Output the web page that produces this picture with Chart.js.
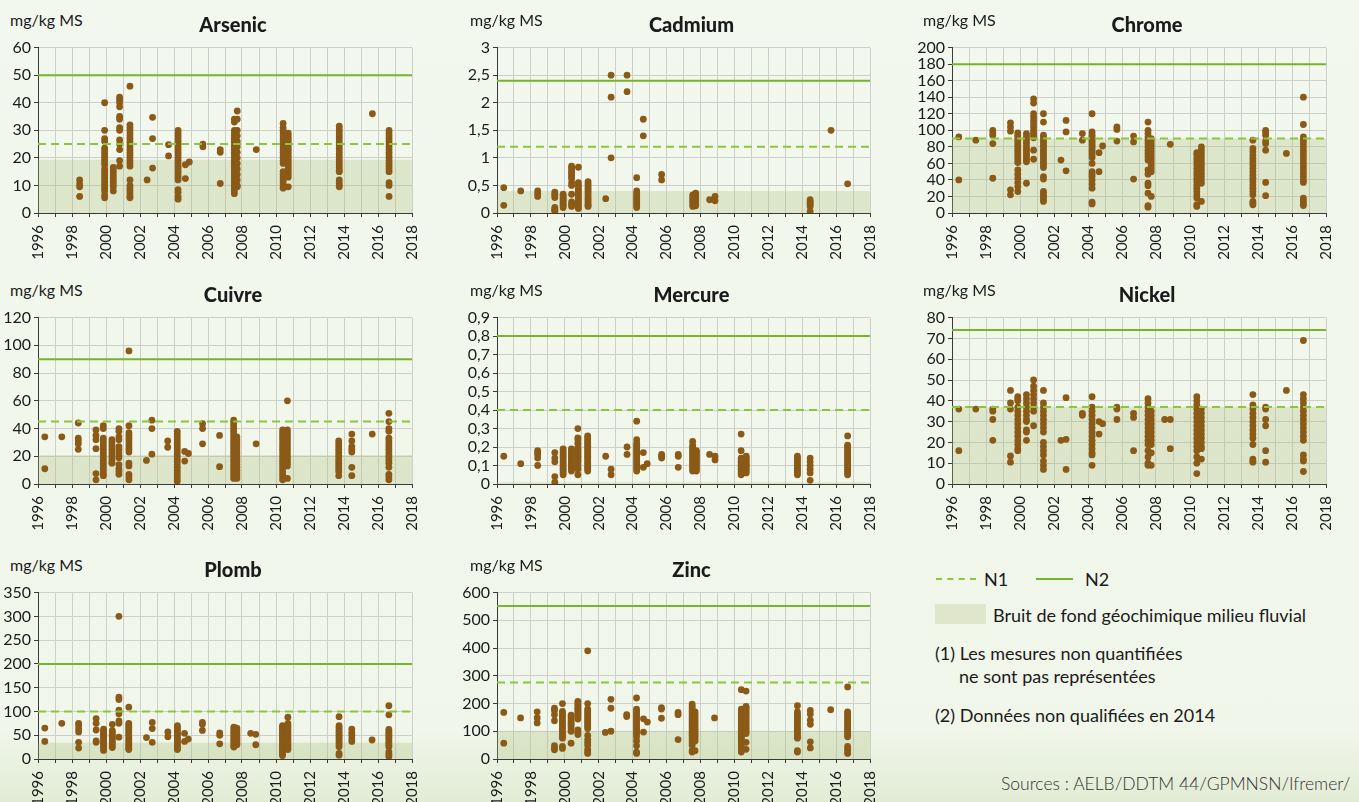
<!DOCTYPE html>
<html lang="fr">
<head>
<meta charset="utf-8">
<title>Métaux dans les sédiments</title>
<script src="https://cdn.jsdelivr.net/npm/chart.js@4.4.1/dist/chart.umd.min.js"></script>
<style>
  html, body { margin: 0; padding: 0; }
  body {
    width: 1359px; height: 802px; overflow: hidden; position: relative;
    background: linear-gradient(to bottom, #f3f8ee 0%, #f1f6ea 91%, #e2ecd5 100%);
    font-family: Lato, 'Open Sans', sans-serif; color: #1b1b1b;
  }
  canvas { position: absolute; }
  .unite { position: absolute; font-size: 16px; line-height: 16px; white-space: nowrap; }
  .titre { position: absolute; font-size: 20px; line-height: 20px; font-weight: 900; transform: translateX(-50%); white-space: nowrap; }
  .leg { position: absolute; font-size: 18px; line-height: 18px; white-space: nowrap; }
  .trait { position: absolute; height: 0; }
</style>
</head>
<body>

<!-- legende -->
<div class="trait" style="left:936px; top:578px; width:40px; border-top:2px dashed #8cc63f"></div>
<div class="leg" style="left:984px; top:570px">N1</div>
<div class="trait" style="left:1036px; top:578px; width:37px; border-top:2px solid #78b42a"></div>
<div class="leg" style="left:1085px; top:570px">N2</div>
<div style="position:absolute; left:935px; top:604px; width:51px; height:20px; background:#dfe6cc"></div>
<div class="leg" style="left:993px; top:606px">Bruit de fond géochimique milieu fluvial</div>
<div class="leg" style="left:935px; top:644px">(1) Les mesures non quantifiées</div>
<div class="leg" style="left:959px; top:667px">ne sont pas représentées</div>
<div class="leg" style="left:935px; top:706px">(2) Données non qualifiées en 2014</div>
<div class="leg" style="left:1001px; top:775px; font-size:17.5px; color:#333; font-weight:300">Sources : AELB/DDTM 44/GPMNSN/Ifremer/</div>

<script>
// Noms des éléments et seuils (mg/kg MS)
const metaux = ['Arsenic', 'Cadmium', 'Chrome', 'Cuivre', 'Mercure', 'Nickel', 'Plomb', 'Zinc']
const niveauN1 = [25, 1.2, 90, 45, 0.4, 37, 100, 276]
const niveauN2 = [50, 2.4, 180, 90, 0.8, 74, 200, 552]
const bruitDeFond = [19.3, 0.4, 90, 21, 0.01, 37, 34, 100]
const yMax = [60, 3, 200, 120, 0.9, 80, 350, 600]
const yPas = [10, 0.5, 20, 20, 0.1, 10, 50, 100]
const anneeMin = 1996, anneeMax = 2018

// Arsenic
const arsenicDates = [1998.45, 1999.92, 2000.43, 2000.8, 2001.41, 2002.42, 2002.74, 2003.68, 2004.24, 2004.67, 2004.9, 2005.7, 2006.72, 2007.55, 2007.72, 2008.84, 2010.42, 2010.72, 2013.72, 2015.67, 2016.65]
const arsenicValeurs = [
    [12, 10.5, 9.5, 6],
    [40, 30, 27, 26, 23.5, 22.5, 21.5, 20.5, 19.5, 18.5, 17.5, 16, 15, 14, 13, 12, 11, 10, 9, 8, 6.5, 5.5],
    [16.5, 15.5, 14.5, 13.5, 12.5, 11.5, 10.5, 9.5, 8],
    [42, 41, 40, 38.5, 35, 34, 31, 30, 26.5, 25, 23, 19, 17],
    [46, 32, 31, 30, 29, 28, 27, 26, 25, 24, 23, 22, 21, 20, 19, 18, 17, 12, 10, 9, 8, 7, 6, 5.5],
    [12],
    [34.7, 27, 16.3],
    [24.8, 20.7],
    [30, 29, 28, 27, 26, 25, 24, 23, 22, 21, 20, 19, 18, 17, 16, 15, 14, 13, 12, 8.5, 7.5, 6, 5],
    [17.5, 12.5],
    [18.5],
    [25, 24],
    [23, 22, 10.7],
    [34, 33, 30, 29, 28, 27, 26, 25, 24, 23, 22, 21, 20, 19, 18, 17, 16, 15, 14, 13, 12, 11, 10, 9, 8, 7],
    [37, 34, 30, 28, 26, 24, 22, 20, 18, 16, 14, 12, 10, 9.5],
    [23],
    [32.5, 31, 30, 29, 28, 27, 26, 25, 24, 23, 22, 21, 20, 19, 18, 15, 14, 13, 12, 11, 10, 9],
    [29, 28, 27, 26, 25, 24, 23, 22, 21, 20, 19, 18, 17, 16, 15, 14, 13, 9.5],
    [31.5, 30.5, 29.5, 28.5, 27.5, 26.5, 25.5, 24.5, 23.5, 22.5, 21.5, 20.5, 19.5, 18.5, 17.5, 16.5, 15.5, 15, 12, 11, 10, 9.5],
    [36],
    [30, 29, 28, 27, 26, 25, 24, 23, 22, 21, 20, 19, 18, 17, 16, 15, 11, 10, 6]
]

// Cadmium
const cadmiumDates = [1996.4, 1997.4, 1998.4, 1999.41, 1999.9, 2000.4, 2000.8, 2001.37, 2002.41, 2002.73, 2003.67, 2004.24, 2004.63, 2005.71, 2007.55, 2007.72, 2008.54, 2008.86, 2014.47, 2015.7, 2016.68]
const cadmiumValeurs = [
    [0.46, 0.14],
    [0.4],
    [0.4, 0.35, 0.3],
    [0.38, 0.35, 0.32, 0.28, 0.1, 0.07, 0.05, 0.03],
    [0.34, 0.31, 0.28, 0.25, 0.22, 0.19, 0.16, 0.13, 0.1],
    [0.85, 0.82, 0.78, 0.74, 0.7, 0.66, 0.62, 0.55, 0.5, 0.34, 0.2, 0.16, 0.12],
    [0.83, 0.55, 0.51, 0.47, 0.43, 0.39, 0.35, 0.31, 0.27, 0.23, 0.19, 0.15, 0.11, 0.08],
    [0.57, 0.53, 0.49, 0.45, 0.41, 0.37, 0.33, 0.29, 0.25, 0.21, 0.17, 0.14, 0.12],
    [0.26],
    [2.5, 2.1, 1.0],
    [2.5, 2.2],
    [0.64, 0.4, 0.36, 0.32, 0.28, 0.25, 0.22, 0.19, 0.16, 0.13, 0.1],
    [1.7, 1.4],
    [0.7, 0.6],
    [0.33, 0.3, 0.27, 0.24, 0.21, 0.18, 0.15, 0.12],
    [0.36, 0.32, 0.28, 0.25, 0.22, 0.19, 0.16, 0.13],
    [0.24],
    [0.3, 0.22],
    [0.24, 0.21, 0.18, 0.15, 0.12, 0.03],
    [1.5],
    [0.53]
]

// Chrome
const chromeDates = [1996.4, 1997.4, 1998.4, 1999.44, 1999.87, 2000.38, 2000.8, 2001.38, 2002.41, 2002.71, 2003.67, 2004.24, 2004.65, 2004.86, 2005.7, 2006.68, 2007.53, 2007.72, 2008.84, 2010.4, 2010.67, 2013.7, 2014.45, 2015.67, 2016.67]
const chromeValeurs = [
    [92, 40],
    [88],
    [100, 97, 94, 84, 42],
    [109, 104, 99, 28, 22],
    [97, 94, 91, 88, 85, 82, 79, 76, 73, 70, 67, 64, 61, 52, 47, 42, 37, 32, 26],
    [96, 93, 90, 87, 84, 80, 77, 74, 71, 68, 65, 62, 36],
    [138, 133, 120, 116, 112, 108, 104, 100, 97, 94, 91, 76, 65],
    [120, 110, 94, 91, 88, 85, 82, 79, 76, 73, 70, 67, 64, 61, 58, 55, 44, 41, 26, 23, 20, 17, 14],
    [64],
    [112, 98, 51],
    [96, 88],
    [120, 98, 94, 91, 88, 85, 82, 79, 76, 73, 70, 67, 60, 50, 47, 44, 40, 35, 30, 13, 11],
    [73, 50],
    [81],
    [104, 101, 87],
    [93, 86, 41],
    [110, 100, 96, 92, 88, 84, 80, 76, 72, 68, 64, 52, 47, 36, 33, 24, 9, 7],
    [90, 86, 82, 78, 74, 70, 66, 62, 58, 54, 50, 20],
    [83],
    [73, 70, 66, 62, 58, 54, 50, 46, 42, 38, 34, 30, 26, 22, 18, 10, 8],
    [80, 76, 72, 68, 64, 60, 56, 52, 48, 44, 40, 36, 14],
    [88, 78, 74, 70, 66, 62, 58, 54, 50, 46, 42, 38, 34, 30, 26, 22, 14, 12, 10],
    [100, 97, 94, 87, 84, 76, 37, 21],
    [72],
    [140, 107, 92, 88, 84, 80, 76, 72, 68, 64, 60, 56, 52, 48, 44, 40, 37, 18, 15, 12, 9]
]

// Cuivre
const cuivreDates = [1996.4, 1997.4, 1998.37, 1999.41, 1999.84, 2000.35, 2000.76, 2001.35, 2002.38, 2002.7, 2003.63, 2004.19, 2004.63, 2004.85, 2005.68, 2006.68, 2007.51, 2007.7, 2008.83, 2010.39, 2010.67, 2013.69, 2014.46, 2015.66, 2016.64]
const cuivreValeurs = [
    [34, 11],
    [34],
    [44, 33, 31, 29, 25],
    [39, 35, 32, 25.5, 7.5, 3],
    [42, 40, 33, 31, 29, 27, 25, 23, 21, 19, 17, 15, 13, 11, 9, 7, 6],
    [32, 30, 28, 26, 24, 22, 20, 18, 16, 15],
    [40, 38, 34, 32, 27, 25, 23, 21, 19, 14, 11, 9, 7],
    [96, 42, 37, 35, 33, 31, 29, 27, 25, 23, 15, 13, 7, 5, 3],
    [17],
    [46, 40, 21.5],
    [31, 26.5],
    [38, 36, 34, 32, 30, 28, 26, 24, 22, 20, 18, 16, 14, 12, 10, 8, 6, 4, 2],
    [23.5, 16.5],
    [22],
    [43.5, 40, 29],
    [35, 12.5],
    [46, 44, 42, 40, 38, 36, 34, 32, 30, 28, 26, 24, 22, 20, 18, 16, 14, 12, 10, 8, 6, 4],
    [34, 32, 30, 28, 26, 24, 22, 20, 18, 16, 14, 12, 10, 8, 6, 4],
    [29],
    [39, 37, 35, 33, 31, 29, 27, 25, 23, 21, 19, 17, 15, 13, 11, 9, 7, 5, 3],
    [60, 39, 37, 35, 33, 31, 29, 27, 25, 23, 21, 19, 17, 15, 13, 4],
    [31, 29, 27, 25, 23, 21, 19, 17, 15, 13, 11, 9, 6],
    [36, 31, 27, 25, 23, 12, 6],
    [36],
    [51, 45, 40, 38, 33, 31, 29, 27, 25, 23, 21, 19, 17, 15, 12, 7, 5, 3]
]

// Mercure
const mercureDates = [1996.4, 1997.4, 1998.4, 1999.41, 1999.9, 2000.39, 2000.77, 2001.35, 2002.41, 2002.73, 2003.67, 2004.24, 2004.63, 2004.86, 2005.71, 2006.69, 2007.54, 2007.76, 2008.54, 2008.86, 2010.4, 2010.7, 2013.72, 2014.47, 2016.68]
const mercureValeurs = [
    [0.15],
    [0.11],
    [0.18, 0.17, 0.16, 0.14, 0.1],
    [0.17, 0.14, 0.12, 0.04, 0.01],
    [0.19, 0.18, 0.17, 0.16, 0.15, 0.14, 0.13, 0.12, 0.11, 0.1, 0.09, 0.08, 0.07, 0.06, 0.05],
    [0.19, 0.18, 0.17, 0.16, 0.15, 0.14, 0.13, 0.12, 0.11, 0.1, 0.09, 0.08, 0.07],
    [0.3, 0.25, 0.24, 0.22, 0.2, 0.19, 0.18, 0.17, 0.16, 0.15, 0.14, 0.13, 0.12, 0.1, 0.08, 0.05],
    [0.26, 0.25, 0.24, 0.23, 0.22, 0.21, 0.2, 0.19, 0.18, 0.17, 0.16, 0.15, 0.14, 0.13, 0.12, 0.11, 0.1, 0.09, 0.08, 0.07],
    [0.15],
    [0.08, 0.05],
    [0.2, 0.16],
    [0.34, 0.24, 0.22, 0.21, 0.2, 0.19, 0.18, 0.17, 0.16, 0.15, 0.14, 0.13, 0.12, 0.11, 0.1, 0.09, 0.08, 0.07],
    [0.17, 0.09],
    [0.11],
    [0.16, 0.15, 0.14],
    [0.16, 0.15, 0.09],
    [0.23, 0.21, 0.2, 0.19, 0.18, 0.17, 0.16, 0.15, 0.14, 0.13, 0.12, 0.11, 0.1, 0.09, 0.08, 0.07],
    [0.18, 0.17, 0.16, 0.15, 0.14, 0.13, 0.12, 0.11, 0.1, 0.09, 0.08, 0.07],
    [0.16],
    [0.15, 0.13],
    [0.27, 0.18, 0.14, 0.13, 0.12, 0.11, 0.1, 0.09, 0.08, 0.07, 0.06, 0.05],
    [0.15, 0.14, 0.13, 0.12, 0.11, 0.1, 0.09, 0.08, 0.07, 0.06],
    [0.15, 0.14, 0.13, 0.12, 0.11, 0.1, 0.09, 0.08, 0.07, 0.06, 0.05],
    [0.14, 0.12, 0.1, 0.08, 0.06, 0.02],
    [0.26, 0.21, 0.2, 0.19, 0.18, 0.17, 0.16, 0.15, 0.14, 0.13, 0.12, 0.11, 0.1, 0.09, 0.08, 0.07, 0.06, 0.05]
]

// Nickel
const nickelDates = [1996.4, 1997.4, 1998.4, 1999.44, 1999.87, 2000.38, 2000.8, 2001.38, 2002.41, 2002.71, 2003.67, 2004.24, 2004.65, 2004.86, 2005.7, 2006.68, 2007.53, 2007.72, 2008.51, 2008.84, 2010.4, 2010.67, 2013.7, 2014.45, 2015.67, 2016.67]
const nickelValeurs = [
    [36, 16],
    [36],
    [36, 35, 31, 21],
    [45, 39, 36, 13.5, 10.5],
    [42, 41, 40, 37, 35, 33, 31, 29, 27, 25, 23, 21, 19, 17, 16],
    [43, 41, 39, 37, 35, 33, 31, 30, 26, 25, 21],
    [50, 47, 45, 43, 41, 39, 37, 35, 28],
    [45, 39, 37, 35, 33, 31, 29, 27, 25, 20, 18, 16, 14, 11, 9, 7],
    [21],
    [41.5, 21.5, 7],
    [34, 33],
    [42, 37, 35, 33, 31, 29, 27, 25, 23, 21, 19, 17, 15, 14, 9],
    [30, 24],
    [29],
    [37, 36, 31],
    [34, 32, 16],
    [41, 39, 37, 35, 33, 31, 29, 27, 25, 23, 21, 19, 16, 13, 10, 9],
    [35, 33, 31, 29, 27, 25, 23, 21, 19, 15, 9],
    [31],
    [31, 17],
    [42, 40, 38, 36, 34, 32, 30, 28, 26, 24, 22, 20, 18, 16, 13, 10, 5],
    [36, 34, 32, 30, 28, 26, 24, 22, 20, 18, 17, 12],
    [43, 38, 36, 34, 32, 30, 28, 26, 24, 22, 19, 12, 11, 10.5],
    [37, 36, 31, 28, 16, 10.5],
    [45],
    [69, 43, 41, 39, 37, 35, 33, 31, 29, 27, 25, 23, 21, 14, 12, 11, 6]
]

// Plomb
const plombDates = [1996.4, 1997.4, 1998.39, 1999.42, 1999.86, 2000.37, 2000.76, 2001.34, 2002.38, 2002.72, 2003.64, 2004.2, 2004.62, 2004.84, 2005.67, 2006.69, 2007.52, 2007.7, 2008.51, 2008.81, 2010.38, 2010.7, 2013.71, 2014.46, 2015.65, 2016.64]
const plombValeurs = [
    [65, 37],
    [75],
    [75, 70, 63, 57, 35, 23],
    [85, 75, 61, 38, 35],
    [63, 60, 57, 54, 51, 48, 45, 42, 39, 36, 33, 30, 27, 24, 21, 18],
    [73, 60, 56, 52, 48, 44, 40, 36, 32, 28, 24],
    [300, 130, 125, 103, 95, 80, 75, 46],
    [109, 75, 71, 67, 63, 59, 55, 51, 47, 43, 39, 35, 31, 27, 23, 20],
    [45],
    [77, 64, 35],
    [57, 47],
    [70, 66, 62, 58, 54, 50, 46, 42, 38, 34, 30, 26, 22, 20],
    [54, 37],
    [42],
    [77, 73, 60],
    [55, 50, 32],
    [67, 63, 59, 55, 51, 47, 43, 39, 35, 31, 27, 25],
    [65, 61, 57, 53, 49, 45, 41, 37, 33, 30],
    [54],
    [52, 30],
    [70, 66, 62, 58, 54, 50, 46, 42, 38, 34, 30, 26, 22, 18, 14, 10, 7],
    [88, 75, 71, 67, 63, 59, 55, 51, 47, 43, 39, 35, 31, 27, 23, 20],
    [89, 70, 66, 62, 58, 54, 50, 46, 42, 38, 34, 30, 26, 12, 8],
    [63, 56, 50, 43, 37],
    [40],
    [112, 93, 62, 58, 54, 50, 46, 42, 38, 34, 30, 26, 15, 10, 5]
]

// Zinc
const zincDates = [1996.4, 1997.39, 1998.37, 1999.39, 1999.86, 2000.37, 2000.77, 2001.35, 2002.39, 2002.72, 2003.65, 2004.23, 2004.64, 2004.87, 2005.7, 2006.68, 2007.51, 2007.68, 2008.83, 2010.41, 2010.69, 2013.72, 2014.48, 2015.68, 2016.68]
const zincValeurs = [
    [168, 57],
    [148],
    [170, 148, 130],
    [183, 175, 160, 138, 48, 40, 33],
    [200, 172, 165, 158, 151, 144, 137, 130, 123, 116, 109, 102, 95, 88, 81, 75, 45, 38],
    [158, 150, 143, 136, 129, 122, 115, 108, 100, 57],
    [208, 200, 193, 186, 179, 172, 165, 158, 151, 144, 105, 95, 88],
    [390, 200, 180, 173, 166, 159, 152, 145, 138, 131, 124, 117, 110, 85, 70, 60, 50, 35, 25, 20],
    [96],
    [215, 183, 100],
    [160, 153],
    [220, 180, 173, 166, 159, 152, 145, 138, 131, 124, 117, 110, 103, 96, 90, 80, 65, 48, 25, 20],
    [145, 97],
    [133],
    [185, 180, 147],
    [168, 160, 70],
    [198, 191, 184, 177, 170, 163, 156, 149, 142, 135, 128, 121, 114, 107, 100, 93, 86, 79, 72, 65, 58, 50, 30, 25],
    [170, 163, 156, 149, 142, 135, 128, 121, 114, 107, 100, 93, 86, 79, 72, 65, 30],
    [148],
    [250, 180, 173, 166, 159, 152, 145, 138, 131, 124, 117, 110, 103, 96, 89, 82, 75, 68, 61, 54, 47, 40, 33, 25],
    [245, 190, 183, 176, 169, 162, 155, 148, 141, 134, 127, 120, 113, 106, 99, 92, 60, 35],
    [192, 170, 163, 156, 149, 142, 135, 128, 121, 114, 107, 100, 93, 86, 79, 75, 30, 25],
    [175, 162, 140, 125, 62, 40],
    [178],
    [260, 170, 163, 156, 149, 142, 135, 128, 121, 114, 107, 100, 93, 86, 80, 45, 35, 25, 20]
]

const toutesDates = [arsenicDates, cadmiumDates, chromeDates, cuivreDates, mercureDates, nickelDates, plombDates, zincDates]
const toutesValeurs = [arsenicValeurs, cadmiumValeurs, chromeValeurs, cuivreValeurs, mercureValeurs, nickelValeurs, plombValeurs, zincValeurs]

// Mise en page (pixels)
const colCanvas = [0, 453, 906]
const colGauche = [38, 497, 952]
const colDroite = [428, 886, 1342]
const rangHaut = [45, 315, 590]
const rangBas = [213, 484, 759]
const PAD_HAUT = 10, PAD_DROITE = 10, HAUT_AXE_X = 50

const MARRON = '#8a5a16'
const VERT = '#78b42a'
const VERT_CLAIR = '#8cc63f'
const FOND = 'rgba(168,188,122,0.29)'
const GRILLE = '#cdcfca'
const AXE = '#3a3a3a'
const TEXTE = '#1b1b1b'

Chart.defaults.font.family = "Lato, 'Open Sans', sans-serif"
Chart.defaults.color = TEXTE

function points(dates, valeurs) {
    const pts = []
    dates.forEach((d, i) => valeurs[i].forEach(v => pts.push({ x: d, y: v })))
    return pts
}

function ligne(y) {
    return [{ x: anneeMin, y }, { x: anneeMax, y }]
}

function ajouterTexte(classe, texte, left, top) {
    const el = document.createElement('div')
    el.className = classe
    el.textContent = texte
    el.style.left = left + 'px'
    el.style.top = top + 'px'
    document.body.appendChild(el)
}

function creerGraphique(i) {
    const col = i % 3, rang = Math.floor(i / 3)
    const gauche = colCanvas[col]
    const haut = rangHaut[rang] - PAD_HAUT
    const largeur = colDroite[col] + PAD_DROITE - gauche
    const hauteur = rangBas[rang] + HAUT_AXE_X - haut
    const largeurAxeY = colGauche[col] - gauche

    const cv = document.createElement('canvas')
    cv.width = largeur
    cv.height = hauteur
    cv.style.left = gauche + 'px'
    cv.style.top = haut + 'px'
    cv.style.width = largeur + 'px'
    cv.style.height = hauteur + 'px'
    document.body.appendChild(cv)

    // unité et titre
    ajouterTexte('unite', 'mg/kg MS', gauche + (col === 0 ? 10 : 17), rangHaut[rang] - 33)
    ajouterTexte('titre', metaux[i], (colGauche[col] + colDroite[col]) / 2, rangHaut[rang] - 31)

    return new Chart(cv, {
        type: 'scatter',
        data: {
            datasets: [
                { type: 'line', data: ligne(niveauN2[i]), borderColor: VERT, borderWidth: 2, pointRadius: 0 },
                { type: 'line', data: ligne(niveauN1[i]), borderColor: VERT_CLAIR, borderWidth: 2, borderDash: [8, 5], pointRadius: 0 },
                { data: points(toutesDates[i], toutesValeurs[i]), backgroundColor: MARRON, borderWidth: 0, pointRadius: 3.4 },
                { type: 'line', data: ligne(bruitDeFond[i]), fill: 'origin', backgroundColor: FOND, borderWidth: 0, pointRadius: 0 }
            ]
        },
        options: {
            responsive: false,
            animation: false,
            layout: { padding: { top: PAD_HAUT, right: PAD_DROITE, left: 0, bottom: 0 } },
            plugins: { legend: { display: false }, tooltip: { enabled: false } },
            scales: {
                x: {
                    type: 'linear', min: anneeMin, max: anneeMax,
                    afterFit: s => { s.height = HAUT_AXE_X },
                    ticks: {
                        stepSize: 1, autoSkip: false, minRotation: 90, maxRotation: 90, padding: 8,
                        font: { size: 15 }, color: TEXTE,
                        callback: v => (v % 2 === 0 ? String(v) : '')
                    },
                    grid: { color: GRILLE, tickLength: 4, tickColor: AXE },
                    border: { color: AXE, width: 1 }
                },
                y: {
                    min: 0, max: yMax[i],
                    afterFit: s => { s.width = largeurAxeY },
                    ticks: {
                        stepSize: yPas[i], autoSkip: false, padding: 3, font: { size: 16 }, color: TEXTE,
                        callback: v => String(v).replace('.', ',')
                    },
                    grid: { color: GRILLE, tickLength: 4, tickColor: AXE },
                    border: { color: AXE, width: 1 }
                }
            }
        }
    })
}

metaux.forEach((m, i) => creerGraphique(i))
</script>
</body>
</html>
